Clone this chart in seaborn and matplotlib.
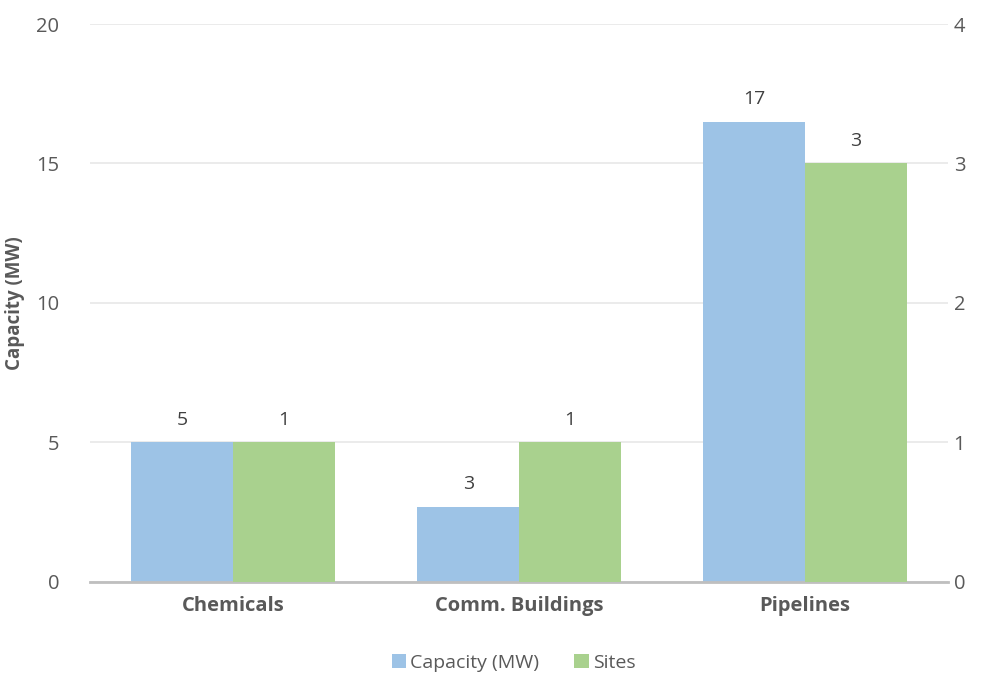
import numpy as np
import pandas as pd
import matplotlib
matplotlib.use("Agg")
import matplotlib.pyplot as plt
import seaborn as sns
from matplotlib.patches import Patch

categories = ["Chemicals", "Comm. Buildings", "Pipelines"]
capacity_mw = [5.0, 2.7, 16.5]
sites = [1, 1, 3]
series_names = ["Capacity (MW)", "Sites"]
colors = ["#9DC3E6", "#A9D18E"]
left_ticks = [0, 5, 10, 15, 20]
right_ticks = [0, 1, 2, 3, 4]

sns.set_theme(style="white")
plt.rcParams['font.family'] = ['Open Sans', 'DejaVu Sans']
text_color = "#595959"

df = pd.DataFrame({
    "category": categories * 2,
    "series": [series_names[0]] * 3 + [series_names[1]] * 3,
    "value": capacity_mw + sites,
})

fig = plt.figure(figsize=(9.84, 6.78), dpi=100)
ax = fig.add_axes([0.0915, 0.1416, 0.872, 0.823])
ax2 = ax.twinx()
palette = dict(zip(series_names, colors))

for a in (ax, ax2):
    sns.barplot(data=df, x="category", y="value",
                hue="series", hue_order=series_names, palette=palette,
                order=categories, width=0.712, ax=a, legend=False,
                saturation=1, errorbar=None, linewidth=0)

# keep capacity bars on the left axis, site bars on the right axis
for p in ax.containers[1]:
    p.remove()
for p in ax2.containers[0]:
    p.remove()
cap_container = ax.containers[0]
site_container = ax2.containers[1]

ax.set_ylim(0, 20)
ax2.set_ylim(0, 4)
ax.set_xlim(-0.5, 2.5)
ax.set_yticks(left_ticks)
ax2.set_yticks(right_ticks)
ax.yaxis.grid(True, color="#E8E8E8", linewidth=1.2)
ax.set_axisbelow(True)
ax2.grid(False)

for a in (ax, ax2):
    for s in a.spines.values():
        s.set_visible(False)
ax.spines["bottom"].set_visible(True)
ax.spines["bottom"].set_color("#BFBFBF")
ax.spines["bottom"].set_linewidth(2)

ax.tick_params(axis="y", length=0, labelsize=14.5, labelcolor=text_color, pad=22)
ax2.tick_params(axis="y", length=0, labelsize=14.5, labelcolor=text_color, pad=4)
ax.tick_params(axis="x", length=0, labelsize=14.5, labelcolor=text_color, pad=10)
for lab in ax.get_xticklabels():
    lab.set_fontweight("bold")
ax.set_xlabel("")
ax2.set_xlabel("")
ax2.set_ylabel("")
ax.set_ylabel("Capacity (MW)", fontsize=13.5, fontweight="bold", color=text_color, labelpad=8)

fmt = lambda v: f"{np.floor(v + 0.5):.0f}"
ax.bar_label(cap_container, labels=[fmt(v) for v in cap_container.datavalues],
             padding=10, fontsize=14, color="#404040")
ax2.bar_label(site_container, labels=[fmt(v) for v in site_container.datavalues],
              padding=10, fontsize=14, color="#404040")

handles = [Patch(facecolor=col, edgecolor="none") for col in colors]
fig.legend(handles, series_names, loc="center", bbox_to_anchor=(0.522, 0.022),
           ncol=2, frameon=False, fontsize=14, labelcolor=text_color,
           handlelength=0.75, handleheight=0.75, handletextpad=0.2, columnspacing=1.8)

fig.savefig("out.png", dpi=100)
